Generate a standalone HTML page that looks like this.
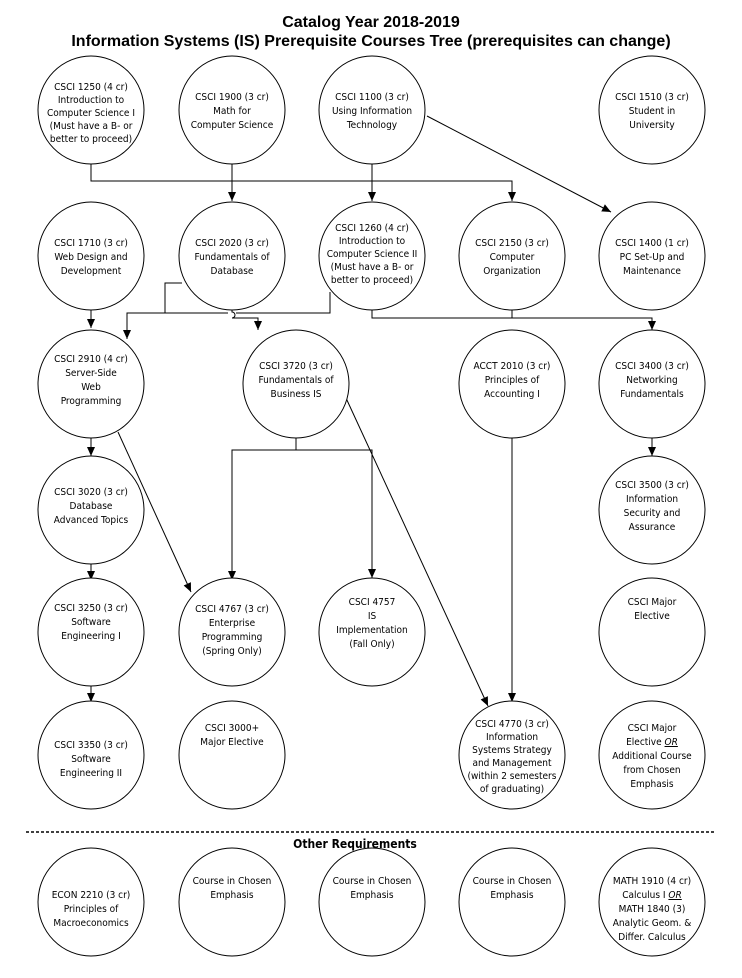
<!DOCTYPE html>
<html><head><meta charset="utf-8"><style>
html,body{margin:0;padding:0;background:#fff;}
svg{display:block;}
text{font-family:"DejaVu Sans Condensed","Liberation Sans Narrow","Liberation Sans",sans-serif;font-size:10px;fill:#000;text-anchor:middle;}
.t{font-family:"Liberation Sans",sans-serif;font-weight:bold;font-size:16px;}
ellipse{fill:#fff;stroke:#000;stroke-width:1;}
.l{fill:none;stroke:#000;stroke-width:1;}
</style></head><body>
<svg width="742" height="978" viewBox="0 0 742 978" xmlns="http://www.w3.org/2000/svg">
<defs><marker id="a" markerWidth="10" markerHeight="10" refX="9" refY="5" orient="auto" markerUnits="userSpaceOnUse"><path d="M0,1 L9,5 L0,9 Z" fill="#000"/></marker></defs>
<text class="t" x="371" y="27">Catalog Year 2018-2019</text>
<text class="t" x="371" y="46">Information Systems (IS) Prerequisite Courses Tree (prerequisites can change)</text>

<!-- connectors -->
<path class="l" d="M91,163 V181 H512 V201" marker-end="url(#a)"/>
<path class="l" d="M232,163 V201" marker-end="url(#a)"/>
<path class="l" d="M372,163 V201" marker-end="url(#a)"/>
<path class="l" d="M427,116 L611,212" marker-end="url(#a)"/>
<path class="l" d="M91,310 V328" marker-end="url(#a)"/>
<path class="l" d="M182,283 H165 V313 H127 V339" marker-end="url(#a)"/>
<path class="l" d="M165,313 H228 M236,313 H330 V292"/>
<path class="l" d="M232,310 V312 A3,3 0 0 1 232,318 V318 H258 V330" marker-end="url(#a)"/>
<path class="l" d="M372,310 V318 H652 V330" marker-end="url(#a)"/>
<path class="l" d="M512,310 V318"/>
<path class="l" d="M296,436 V450 H232 V580" marker-end="url(#a)"/>
<path class="l" d="M296,450 H372 V578" marker-end="url(#a)"/>
<path class="l" d="M346,398 L488,706" marker-end="url(#a)"/>
<path class="l" d="M118,432 L191,592" marker-end="url(#a)"/>
<path class="l" d="M91,436 V456" marker-end="url(#a)"/>
<path class="l" d="M91,564 V580" marker-end="url(#a)"/>
<path class="l" d="M91,686 V702" marker-end="url(#a)"/>
<path class="l" d="M512,436 V702" marker-end="url(#a)"/>
<path class="l" d="M652,436 V456" marker-end="url(#a)"/>

<!-- row1 -->
<ellipse cx="91" cy="110" rx="53" ry="54"/>
<text x="91" y="90">CSCI 1250 (4 cr)</text><text x="91" y="103">Introduction to</text><text x="91" y="116">Computer Science I</text><text x="91" y="129">(Must have a B- or</text><text x="91" y="142">better to proceed)</text>
<ellipse cx="232" cy="110" rx="53" ry="54"/>
<text x="232" y="100">CSCI 1900 (3 cr)</text><text x="232" y="114">Math for</text><text x="232" y="128">Computer Science</text>
<ellipse cx="372" cy="110" rx="53" ry="54"/>
<text x="372" y="100">CSCI 1100 (3 cr)</text><text x="372" y="114">Using Information</text><text x="372" y="128">Technology</text>
<ellipse cx="652" cy="110" rx="53" ry="54"/>
<text x="652" y="100">CSCI 1510 (3 cr)</text><text x="652" y="114">Student in</text><text x="652" y="128">University</text>

<!-- row2 -->
<ellipse cx="91" cy="256" rx="53" ry="54"/>
<text x="91" y="246">CSCI 1710 (3 cr)</text><text x="91" y="260">Web Design and</text><text x="91" y="274">Development</text>
<ellipse cx="232" cy="256" rx="53" ry="54"/>
<text x="232" y="246">CSCI 2020 (3 cr)</text><text x="232" y="260">Fundamentals of</text><text x="232" y="274">Database</text>
<ellipse cx="372" cy="256" rx="53" ry="54"/>
<text x="372" y="231">CSCI 1260 (4 cr)</text><text x="372" y="244">Introduction to</text><text x="372" y="257">Computer Science II</text><text x="372" y="270">(Must have a B- or</text><text x="372" y="283">better to proceed)</text>
<ellipse cx="512" cy="256" rx="53" ry="54"/>
<text x="512" y="246">CSCI 2150 (3 cr)</text><text x="512" y="260">Computer</text><text x="512" y="274">Organization</text>
<ellipse cx="652" cy="256" rx="53" ry="54"/>
<text x="652" y="246">CSCI 1400 (1 cr)</text><text x="652" y="260">PC Set-Up and</text><text x="652" y="274">Maintenance</text>

<!-- row3 -->
<ellipse cx="91" cy="384" rx="53" ry="54"/>
<text x="91" y="362">CSCI 2910 (4 cr)</text><text x="91" y="376">Server-Side</text><text x="91" y="390">Web</text><text x="91" y="404">Programming</text>
<ellipse cx="296" cy="384" rx="53" ry="54"/>
<text x="296" y="369">CSCI 3720 (3 cr)</text><text x="296" y="383">Fundamentals of</text><text x="296" y="397">Business IS</text>
<ellipse cx="512" cy="384" rx="53" ry="54"/>
<text x="512" y="369">ACCT 2010 (3 cr)</text><text x="512" y="383">Principles of</text><text x="512" y="397">Accounting I</text>
<ellipse cx="652" cy="384" rx="53" ry="54"/>
<text x="652" y="369">CSCI 3400 (3 cr)</text><text x="652" y="383">Networking</text><text x="652" y="397">Fundamentals</text>

<!-- row4 -->
<ellipse cx="91" cy="510" rx="53" ry="54"/>
<text x="91" y="495">CSCI 3020 (3 cr)</text><text x="91" y="509">Database</text><text x="91" y="523">Advanced Topics</text>
<ellipse cx="652" cy="510" rx="53" ry="54"/>
<text x="652" y="488">CSCI 3500 (3 cr)</text><text x="652" y="502">Information</text><text x="652" y="516">Security and</text><text x="652" y="530">Assurance</text>

<!-- row5 -->
<ellipse cx="91" cy="632" rx="53" ry="54"/>
<text x="91" y="611">CSCI 3250 (3 cr)</text><text x="91" y="625">Software</text><text x="91" y="639">Engineering I</text>
<ellipse cx="232" cy="632" rx="53" ry="54"/>
<text x="232" y="612">CSCI 4767 (3 cr)</text><text x="232" y="626">Enterprise</text><text x="232" y="640">Programming</text><text x="232" y="654">(Spring Only)</text>
<ellipse cx="372" cy="632" rx="53" ry="54"/>
<text x="372" y="605">CSCI 4757</text><text x="372" y="619">IS</text><text x="372" y="633">Implementation</text><text x="372" y="647">(Fall Only)</text>
<ellipse cx="652" cy="632" rx="53" ry="54"/>
<text x="652" y="605">CSCI Major</text><text x="652" y="619">Elective</text>

<!-- row6 -->
<ellipse cx="91" cy="755" rx="53" ry="54"/>
<text x="91" y="748">CSCI 3350 (3 cr)</text><text x="91" y="762">Software</text><text x="91" y="776">Engineering II</text>
<ellipse cx="232" cy="755" rx="53" ry="54"/>
<text x="232" y="731">CSCI 3000+</text><text x="232" y="745">Major Elective</text>
<ellipse cx="512" cy="755" rx="53" ry="54"/>
<text x="512" y="727">CSCI 4770 (3 cr)</text><text x="512" y="740">Information</text><text x="512" y="753">Systems Strategy</text><text x="512" y="766">and Management</text><text x="512" y="779">(within 2 semesters</text><text x="512" y="792">of graduating)</text>
<ellipse cx="652" cy="755" rx="53" ry="54"/>
<text x="652" y="731">CSCI Major</text><text x="652" y="745">Elective <tspan font-style="italic" text-decoration="underline">OR</tspan></text><text x="652" y="759">Additional Course</text><text x="652" y="773">from Chosen</text><text x="652" y="787">Emphasis</text>

<line x1="26" y1="832" x2="716" y2="832" stroke="#000" stroke-width="1.5" stroke-dasharray="3,2"/>
<text x="355" y="848" style="font-weight:bold;font-size:12px">Other Requirements</text>

<!-- row7 -->
<ellipse cx="91" cy="902" rx="53" ry="54"/>
<text x="91" y="898">ECON 2210 (3 cr)</text><text x="91" y="912">Principles of</text><text x="91" y="926">Macroeconomics</text>
<ellipse cx="232" cy="902" rx="53" ry="54"/>
<text x="232" y="884">Course in Chosen</text><text x="232" y="898">Emphasis</text>
<ellipse cx="372" cy="902" rx="53" ry="54"/>
<text x="372" y="884">Course in Chosen</text><text x="372" y="898">Emphasis</text>
<ellipse cx="512" cy="902" rx="53" ry="54"/>
<text x="512" y="884">Course in Chosen</text><text x="512" y="898">Emphasis</text>
<ellipse cx="652" cy="902" rx="53" ry="54"/>
<text x="652" y="884">MATH 1910 (4 cr)</text><text x="652" y="898">Calculus I <tspan font-style="italic" text-decoration="underline">OR</tspan></text><text x="652" y="912">MATH 1840 (3)</text><text x="652" y="926">Analytic Geom. &amp;</text><text x="652" y="940">Differ. Calculus</text>
</svg>
</body></html>
